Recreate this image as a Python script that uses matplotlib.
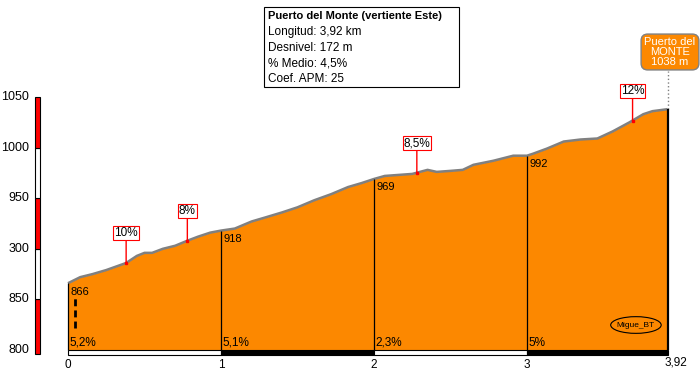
import numpy as np
import matplotlib
matplotlib.use('Agg')
import matplotlib.pyplot as plt
from matplotlib.patches import Rectangle, Ellipse

plt.rcParams['font.family'] = ['Liberation Sans', 'DejaVu Sans']

# profile (km, m)
dist = [0, 0.08, 0.16, 0.25, 0.38, 0.45, 0.50, 0.55, 0.62, 0.70, 0.78, 0.85, 0.93, 1.00,
        1.09, 1.20, 1.29, 1.40, 1.50, 1.61, 1.72, 1.83, 1.92, 2.00,
        2.07, 2.25, 2.35, 2.41, 2.50, 2.58, 2.65, 2.78, 2.91, 3.00,
        3.04, 3.13, 3.24, 3.35, 3.46, 3.56, 3.67, 3.76, 3.82, 3.92]
elev = [866, 872, 875, 879, 886, 893, 896, 896, 900, 903, 908, 912, 916, 918,
        920, 927, 931, 936, 941, 948, 954, 961, 965, 969,
        972, 974, 978, 976, 977, 978, 983, 987, 992, 992,
        994, 999, 1006, 1008, 1009, 1016, 1025, 1033, 1036, 1038]

# km segments
seg_km = [0, 1, 2, 3]
seg_elev = [866, 918, 969, 992]
seg_pct = ['5,2%', '5,1%', '2,3%', '5%']
total_km = 3.92
top_elev = 1038

# max gradient marks
mark_km = [0.38, 0.78, 2.28, 3.69]
mark_lbl = ['10%', '8%', '8,5%', '12%']

# elevation scale
y_ticks = [800, 850, 900, 950, 1000, 1050]
y_labels = ['800', '850', '300', '950', '1000', '1050']
x_ticks = [0, 1, 2, 3, 3.92]
x_labels = ['0', '1', '2', '3', '3,92']

info = ['Longitud: 3,92 km', 'Desnivel: 172 m', '% Medio: 4,5%', 'Coef. APM: 25']

ORANGE = '#FC8800'
W, H = 700, 376
PX_KM, PX_M = 153.0, 1.012
X0, Y0 = 68, 350   # pixel of (0 km, 800 m)

fig = plt.figure(figsize=(7, 3.76), dpi=100)
ax = fig.add_axes([0, 0, 1, 1])
ax.set_xlim(-X0 / PX_KM, (W - X0) / PX_KM)
ax.set_ylim(800 - (H - Y0) / PX_M, 800 + Y0 / PX_M)
ax.axis('off')

# profile
ax.fill_between(dist, 800, elev, color=ORANGE, lw=0, zorder=1)
ax.plot(dist, elev, color='#808080', lw=1.8, zorder=2, solid_capstyle='butt')

# km separators + labels
for k, e, p in zip(seg_km, seg_elev, seg_pct):
    ax.vlines(k, 800, np.interp(k, dist, elev), color='black', lw=0.9, zorder=3)
    ax.annotate(str(e), (k, e), xytext=(1.5, -6), textcoords='offset points',
                ha='left', va='center', fontsize=8, zorder=4)
    ax.text(k + 0.012, 807, p, ha='left', va='center', fontsize=8.5, zorder=4)
ax.vlines(total_km, 800, top_elev, color='black', lw=1.6, zorder=3)

# dashed marker near start
ax.vlines(0.046, 822, 853, color='black', lw=2, linestyles=(0, (2.5, 1.5)), zorder=3)

# bottom km bar
seg_ends = seg_km[1:] + [total_km]
for i, (a, b) in enumerate(zip(seg_km, seg_ends)):
    ax.add_patch(Rectangle((a, 795.3), b - a, 4.7, fc='white' if i % 2 == 0 else 'black',
                           ec='black', lw=0.8, zorder=3))

for x, l in zip(x_ticks, x_labels):
    off = 0.05 if l == '3,92' else 0
    yy = 788 if l == '3,92' else 785
    ax.text(x + off, yy, l, ha='center', va='center', fontsize=8.5)

# elevation scale bar
bx, bw = (35 - X0) / PX_KM, 5 / PX_KM
for i, (a, b) in enumerate(zip(y_ticks[:-1], y_ticks[1:])):
    lo = 796 if i == 0 else a
    ax.add_patch(Rectangle((bx, lo), bw, b - lo, fc='#FF0000' if i % 2 == 0 else 'white',
                           ec='black', lw=0.8))
for t, l in zip(y_ticks, y_labels):
    ax.text((29 - X0) / PX_KM, t, l, ha='right', va='center', fontsize=9)

# gradient marks
for k, l in zip(mark_km, mark_lbl):
    e = np.interp(k, dist, elev)
    ax.plot(k, e, 's', color='red', ms=2, zorder=5)
    ax.annotate(l, (k, e), xytext=(0, 17), textcoords='offset points', ha='center',
                va='bottom', fontsize=8.5, zorder=6,
                bbox=dict(boxstyle='square,pad=0.08', fc='white', ec='red', lw=0.8),
                arrowprops=dict(arrowstyle='-', color='red', lw=1, shrinkA=0, shrinkB=0))

# summit label
ax.vlines(total_km, top_elev, 1076, color='#808080', lw=1, linestyles=':', zorder=2)
fig.text(670 / W, 1 - 52 / H, 'Puerto del\nMONTE\n1038 m', color='white', fontsize=8,
         ha='center', va='center', linespacing=0.95,
         bbox=dict(boxstyle='round,pad=0.3,rounding_size=0.6', fc=ORANGE, ec='#808080', lw=1))

# info box
fig.add_artist(Rectangle((264 / W, 1 - 87 / H), 195 / W, 80 / H, transform=fig.transFigure,
                         fc='white', ec='black', lw=0.8))
fig.text(268 / W, 1 - 16 / H, 'Puerto del Monte (vertiente Este)', fontsize=8,
         fontweight='bold', va='center', ha='left')
for i, s in enumerate(info):
    fig.text(268 / W, 1 - (32 + i * 15.7) / H, s, fontsize=8.5, va='center', ha='left')

# author tag
ax.add_patch(Ellipse((3.712, 824.7), 0.33, 16.5, fill=False, ec='black', lw=0.8, zorder=4))
ax.text(3.712, 824.7, 'Migue_BT', fontsize=6, ha='center', va='center', zorder=4)

fig.savefig('out.png', dpi=100)
